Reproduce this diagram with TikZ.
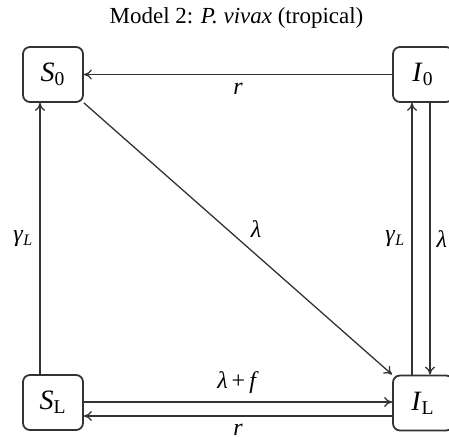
\documentclass[tikz,border=0pt]{standalone}
\usepackage{fontspec}
\setmainfont{Liberation Serif}
\usetikzlibrary{arrows.meta}
\newcommand{\cvar}[2]{\textit{#1}\textsubscript{#2}}
\begin{document}
\begin{tikzpicture}[x=0.5pt, y=-0.5pt, >={To[length=4pt,width=5pt]}]
			\useasboundingbox (0,0) rectangle (449,437);
			\clip (0,0) rectangle (449,437);
			\tikzset{
				compartment/.style={draw=black!80, line width=0.9pt, rounded corners=3.5pt, minimum width=30pt, minimum height=27.5pt, inner sep=0pt, font=\fontsize{14}{16}\selectfont},
				flow/.style={->, draw=black!80, line width=0.65pt},
				rate/.style={font=\fontsize{12}{14}\selectfont, inner sep=1pt}
			}
			\node[font=\fontsize{11.5}{14}\selectfont] (title) at (236.5, 18) {Model 2: \textit{P. vivax} (tropical)};
			\node[compartment] (S0) at (53, 74.5) {\cvar{S}{0}};
			\node[compartment] (I0) at (423, 74.5) {\cvar{I}{0}};
			\node[compartment] (SL) at (53, 402.5) {\cvar{S}{L}};
			\node[compartment] (IL) at (423, 403) {\cvar{I}{L}};
			\draw[flow] (I0) -- (S0) node[rate, midway, below=3pt] {\textit{r}};
			\draw[flow] (SL.north -| 40,0) -- (S0.south -| 40,0) node[rate, midway, left=2pt] {\cvar{γ}{\textit{L}}};
			\draw[flow] (S0.south east) -- (IL.north west) node[rate, pos=0.52, above right=2pt] {\textit{λ}};
			\draw[flow] (IL.north -| 412,0) -- (I0.south -| 412,0) node[rate, midway, left=2pt] {\cvar{γ}{\textit{L}}};
			\draw[flow] (I0.south -| 430,0) -- (IL.north -| 430,0) node[rate, midway, right=2pt] {\textit{λ}};
			\draw[flow] (SL.east |- 0,402) -- (IL.west |- 0,402) node[rate, midway, above=3pt] {\textit{λ}\,+\,\textit{f}};
			\draw[flow] (IL.west |- 0,416) -- (SL.east |- 0,416) node[rate, midway, below=3pt] {\textit{r}};
		\end{tikzpicture}
\end{document}
